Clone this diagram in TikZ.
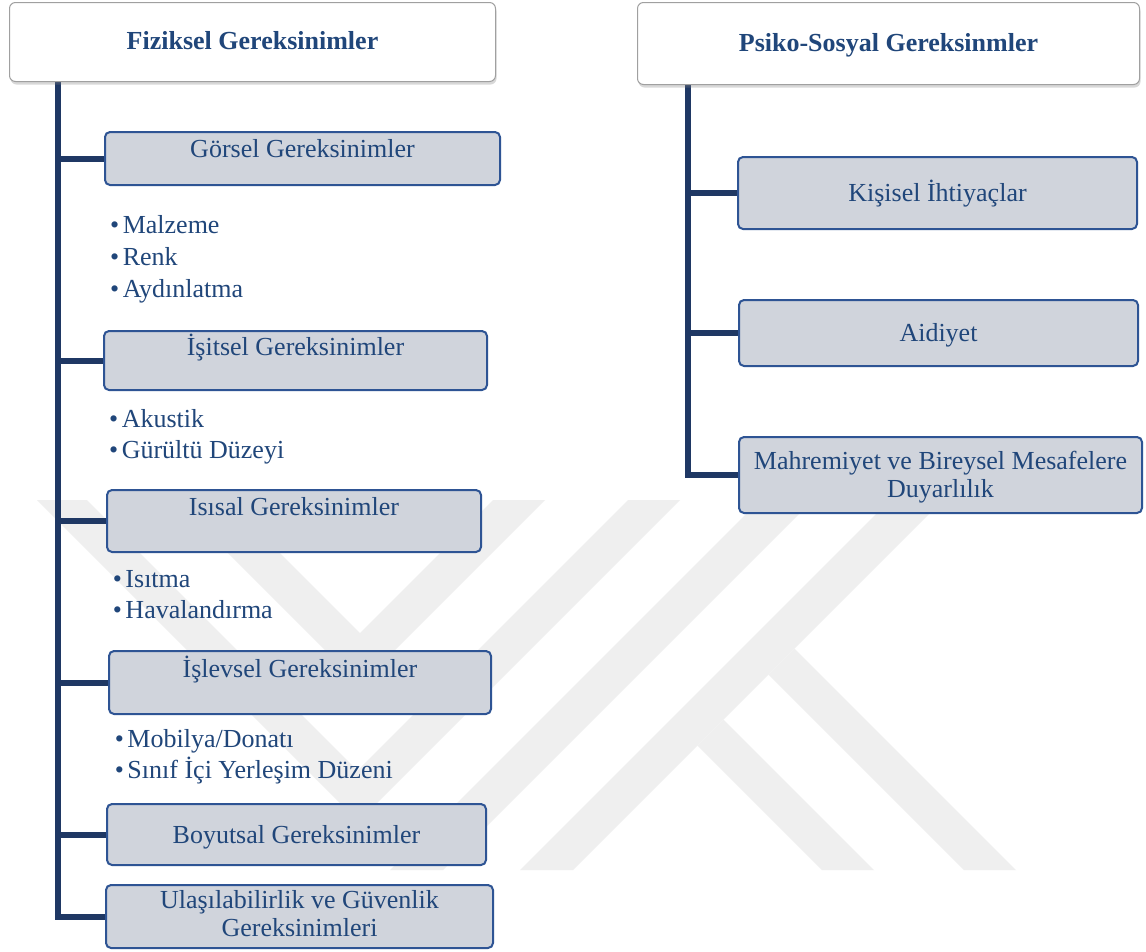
\documentclass[tikz,border=0pt]{standalone}
\usepackage{fontspec}
\setmainfont{Liberation Serif}
\usetikzlibrary{calc,shadows}
\pgfdeclarelayer{bg}
\pgfsetlayers{bg,main}
\definecolor{trunkc}{RGB}{31,56,100}
\definecolor{txtc}{RGB}{32,70,122}
\definecolor{boxfill}{RGB}{208,212,220}
\definecolor{boxline}{RGB}{46,84,148}
\definecolor{wm}{RGB}{239,239,239}
\definecolor{titleline}{RGB}{160,160,160}
\newcommand{\mybul}{•\kern3.5pt}
\begin{document}
\begin{tikzpicture}[x=1pt,y=-1pt,
  titlebox/.style={draw=titleline, line width=1pt, fill=white, rounded corners=6pt,
    drop shadow={opacity=0.3, shadow xshift=1pt, shadow yshift=-3pt},
    anchor=north west, inner sep=0pt},
  graybox/.style={draw=boxline, line width=2pt, fill=boxfill, rounded corners=5pt,
    anchor=north west, inner sep=0pt},
  lbl/.style={text=txtc, font=\fontsize{26}{28}\selectfont, inner sep=0pt},
  ttl/.style={text=txtc, font=\fontsize{26}{28}\selectfont\bfseries, inner sep=0pt},
  trunk/.style={draw=trunkc, line width=6pt},
  wmark/.style={fill=wm, draw=none}]

\useasboundingbox (0,0) rectangle (1146,951);

% title boxes
\node[titlebox, minimum width=486pt, minimum height=79pt] (f) at (9,2) {};
\node[titlebox, minimum width=502pt, minimum height=82pt] (p) at (637,2) {};
\node[ttl, anchor=base] (ft) at ($(f.center)+(0,7)$) {Fiziksel Gereksinimler};
\node[ttl, anchor=base] (pt) at ($(p.center)+(0,7.5)$) {Psiko-Sosyal Gereksinmler};

% left boxes
\node[graybox, minimum width=395pt, minimum height=53pt] (g1) at (104,131) {};
\node[graybox, minimum width=383pt, minimum height=59pt] (g2) at (103,330) {};
\node[graybox, minimum width=374pt, minimum height=62pt] (g3) at (106,489) {};
\node[graybox, minimum width=382pt, minimum height=63pt] (g4) at (108,650) {};
\node[graybox, minimum width=379pt, minimum height=61pt] (g5) at (106,803) {};
\node[graybox, minimum width=387pt, minimum height=63pt] (g6) at (105,884) {};

\node[lbl, anchor=base] (g1t) at ($(g1.north)+(0,26)$) {Görsel Gereksinimler};
\node[lbl, anchor=base] (g2t) at ($(g2.north)+(0,25.5)$) {İşitsel Gereksinimler};
\node[lbl, anchor=base] (g3t) at ($(g3.north)+(0,26)$) {Isısal Gereksinimler};
\node[lbl, anchor=base] (g4t) at ($(g4.north)+(0,27)$) {İşlevsel Gereksinimler};
\node[lbl, anchor=base] (g5t) at ($(g5.center)+(0,8.5)$) {Boyutsal Gereksinimler};
\node[lbl, align=center] (g6t) at ($(g6.center)+(0,-2.5)$) {Ulaşılabilirlik ve Güvenlik\\Gereksinimleri};

% bullets
\node[lbl, anchor=base west] (b1) at (110,233.3) {\mybul Malzeme};
\node[lbl, anchor=base west] (b2) at (110,265) {\mybul Renk};
\node[lbl, anchor=base west] (b3) at (110,297) {\mybul Aydınlatma};
\node[lbl, anchor=base west] (b4) at (109,427) {\mybul Akustik};
\node[lbl, anchor=base west] (b5) at (109,458) {\mybul Gürültü Düzeyi};
\node[lbl, anchor=base west] (b6) at (112.7,587) {\mybul Isıtma};
\node[lbl, anchor=base west] (b7) at (112.7,618) {\mybul Havalandırma};
\node[lbl, anchor=base west] (b8) at (114.7,747) {\mybul Mobilya/Donatı};
\node[lbl, anchor=base west] (b9) at (114.7,778) {\mybul Sınıf İçi Yerleşim Düzeni};

% right boxes
\node[graybox, minimum width=399pt, minimum height=72pt] (k1) at (737,156) {};
\node[graybox, minimum width=399pt, minimum height=66pt] (k2) at (738,299) {};
\node[graybox, minimum width=403pt, minimum height=76pt] (k3) at (738,436) {};
\node[lbl, anchor=base] (k1t) at ($(k1.center)+(0,8)$) {Kişisel İhtiyaçlar};
\node[lbl, anchor=base] (k2t) at ($(k2.center)+(0,8)$) {Aidiyet};
\node[lbl, align=center] (k3t) at ($(k3.center)+(0,2)$) {Mahremiyet ve Bireysel Mesafelere\\Duyarlılık};

\coordinate (lt) at (58,0);
\coordinate (rt) at (688,0);

\begin{pgfonlayer}{bg}
  \fill[white] (0,0) rectangle (1146,951);
  % watermark
  \fill[wmark] (175,500) -- (360,685) -- (545,500) -- (493,500) -- (360,633) -- (227,500) -- cycle;
  \fill[wmark] (37,500) -- (358.5,821.5) -- (680,500) -- (628,500) -- (357.5,770.5) -- (87,500) -- cycle;
  \fill[wmark] (760,500) -- (813,500) -- (443,870) -- (390,870) -- cycle;
  \fill[wmark] (890,500) -- (943,500) -- (573,870) -- (520,870) -- cycle;
  \fill[wmark] (768.5,674.5) -- (794.5,648.5) -- (1016,870) -- (964,870) -- cycle;
  \fill[wmark] (697.5,745.5) -- (723.5,719.5) -- (874,870) -- (822,870) -- cycle;
  % connectors
  \draw[trunk] (f.south -| lt) |- (g1.west);
  \draw[trunk] (f.south -| lt) |- (g2.west);
  \draw[trunk] (f.south -| lt) |- (g3.west);
  \draw[trunk] (f.south -| lt) |- (g4.west);
  \draw[trunk] (f.south -| lt) |- (g5.west);
  \draw[trunk] (f.south -| lt) |- (g6.west);
  \draw[trunk] (p.south -| rt) |- (k1.west);
  \draw[trunk] (p.south -| rt) |- (k2.west);
  \draw[trunk] (p.south -| rt) |- (k3.west);
\end{pgfonlayer}
\end{tikzpicture}
\end{document}
